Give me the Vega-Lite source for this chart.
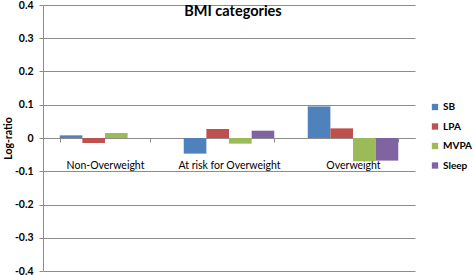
{
  "$schema": "https://vega.github.io/schema/vega-lite/v6.json",
  "width": 372,
  "height": 266,
  "autosize": {"type": "none"},
  "padding": {"left": 43, "top": 5, "right": 58, "bottom": 4},
  "background": "white",
  "config": {
    "font": "Lato",
    "view": {"stroke": null}
  },
  "title": {
    "text": "BMI categories",
    "fontSize": 14.5,
    "fontWeight": "bold",
    "color": "#000000",
    "anchor": "middle",
    "offset": -19,
    "dx": 4
  },
  "data": {
    "values": [
      {"category": "Non-Overweight", "series": "SB", "value": 0.008},
      {"category": "Non-Overweight", "series": "LPA", "value": -0.015},
      {"category": "Non-Overweight", "series": "MVPA", "value": 0.015},
      {"category": "Non-Overweight", "series": "Sleep", "value": 0.0},
      {"category": "At risk for Overweight", "series": "SB", "value": -0.047},
      {"category": "At risk for Overweight", "series": "LPA", "value": 0.027},
      {"category": "At risk for Overweight", "series": "MVPA", "value": -0.017},
      {"category": "At risk for Overweight", "series": "Sleep", "value": 0.022},
      {"category": "Overweight", "series": "SB", "value": 0.095},
      {"category": "Overweight", "series": "LPA", "value": 0.029},
      {"category": "Overweight", "series": "MVPA", "value": -0.07},
      {"category": "Overweight", "series": "Sleep", "value": -0.068}
    ]
  },
  "mark": {"type": "bar"},
  "encoding": {
    "x": {
      "field": "category",
      "type": "nominal",
      "sort": ["Non-Overweight", "At risk for Overweight", "Overweight"],
      "scale": {"paddingInner": 0.27, "paddingOuter": 0.135},
      "axis": {
        "title": null,
        "offset": -133,
        "labelAngle": 0,
        "labelPadding": 18,
        "labelFontSize": 10.5,
        "labelColor": "#000000",
        "domainColor": "#8c8c8c",
        "tickColor": "#8c8c8c",
        "tickBand": "extent",
        "tickSize": 4,
        "grid": false
      }
    },
    "xOffset": {
      "field": "series",
      "type": "nominal",
      "sort": ["SB", "LPA", "MVPA", "Sleep"],
      "scale": {"paddingInner": 0, "paddingOuter": 0}
    },
    "y": {
      "field": "value",
      "type": "quantitative",
      "scale": {"domain": [-0.4, 0.4], "nice": false, "zero": false},
      "axis": {
        "title": "Log-ratio",
        "titleFontSize": 10.5,
        "titleFontWeight": "bold",
        "titleColor": "#000000",
        "titleX": -35,
        "titleY": 133,
        "titleAlign": "center",
        "titleBaseline": "middle",
        "values": [-0.4, -0.3, -0.2, -0.1, 0, 0.1, 0.2, 0.3, 0.4],
        "labelExpr": "datum.value == 0 ? '0' : (datum.value < 0 ? '-' : '') + format(abs(datum.value), '.1f')",
        "labelFontSize": 10.5,
        "labelFontWeight": "bold",
        "labelColor": "#000000",
        "labelPadding": 6,
        "domainColor": "#8c8c8c",
        "tickColor": "#8c8c8c",
        "tickSize": 4,
        "gridColor": "#8c8c8c",
        "gridWidth": 1
      }
    },
    "color": {
      "field": "series",
      "type": "nominal",
      "sort": ["SB", "LPA", "MVPA", "Sleep"],
      "scale": {
        "domain": ["SB", "LPA", "MVPA", "Sleep"],
        "range": ["#4F81BD", "#C0504D", "#9BBB59", "#8064A2"]
      },
      "legend": {
        "title": null,
        "orient": "none",
        "legendX": 387,
        "legendY": 97,
        "symbolType": "square",
        "symbolSize": 40,
        "symbolStrokeWidth": 0,
        "labelFontSize": 10,
        "labelFontWeight": "bold",
        "labelColor": "#000000",
        "labelOffset": 3,
        "rowPadding": 9.5
      }
    }
  }
}
